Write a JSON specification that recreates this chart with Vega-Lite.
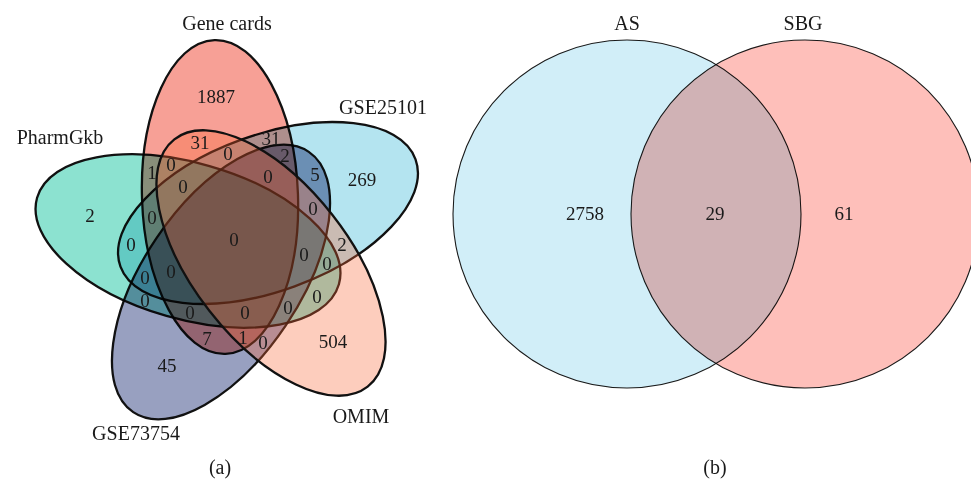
{
  "$schema": "https://vega.github.io/schema/vega-lite/v6.json",
  "width": 971,
  "height": 480,
  "autosize": {"type": "none"},
  "padding": 0,
  "background": "white",
  "config": {"view": {"stroke": null}},
  "datasets": {
    "sets5": [
      {"set": "Gene cards", "x": 220, "y": 197, "rot": -2},
      {"set": "GSE25101", "x": 268, "y": 213, "rot": 70},
      {"set": "OMIM", "x": 271, "y": 263, "rot": 142},
      {"set": "GSE73754", "x": 221, "y": 282, "rot": 214},
      {"set": "PharmGkb", "x": 188, "y": 241, "rot": 286}
    ],
    "sets2": [
      {"set": "AS", "x": 627, "y": 214},
      {"set": "SBG", "x": 805, "y": 214}
    ],
    "names": [
      {"name": "Gene cards", "x": 227, "y": 24},
      {"name": "GSE25101", "x": 383, "y": 108},
      {"name": "PharmGkb", "x": 60, "y": 138},
      {"name": "GSE73754", "x": 136, "y": 434},
      {"name": "OMIM", "x": 361, "y": 417},
      {"name": "AS", "x": 627, "y": 24},
      {"name": "SBG", "x": 803, "y": 24},
      {"name": "(a)", "x": 220, "y": 468},
      {"name": "(b)", "x": 715, "y": 468}
    ],
    "counts": [
      {"n": 1887, "x": 216, "y": 97},
      {"n": 31, "x": 200, "y": 143},
      {"n": 31, "x": 271, "y": 139},
      {"n": 2, "x": 285, "y": 156},
      {"n": 0, "x": 228, "y": 154},
      {"n": 1, "x": 152, "y": 173},
      {"n": 0, "x": 171, "y": 165},
      {"n": 0, "x": 183, "y": 187},
      {"n": 0, "x": 268, "y": 177},
      {"n": 5, "x": 315, "y": 175},
      {"n": 269, "x": 362, "y": 180},
      {"n": 2, "x": 90, "y": 216},
      {"n": 0, "x": 152, "y": 218},
      {"n": 0, "x": 313, "y": 209},
      {"n": 0, "x": 131, "y": 245},
      {"n": 0, "x": 234, "y": 240},
      {"n": 2, "x": 342, "y": 245},
      {"n": 0, "x": 304, "y": 255},
      {"n": 0, "x": 327, "y": 264},
      {"n": 0, "x": 171, "y": 272},
      {"n": 0, "x": 145, "y": 278},
      {"n": 0, "x": 145, "y": 301},
      {"n": 0, "x": 317, "y": 297},
      {"n": 0, "x": 190, "y": 313},
      {"n": 0, "x": 245, "y": 313},
      {"n": 0, "x": 288, "y": 308},
      {"n": 504, "x": 333, "y": 342},
      {"n": 7, "x": 207, "y": 339},
      {"n": 1, "x": 243, "y": 338},
      {"n": 0, "x": 263, "y": 343},
      {"n": 45, "x": 167, "y": 366},
      {"n": 2758, "x": 585, "y": 214},
      {"n": 29, "x": 715, "y": 214},
      {"n": 61, "x": 844, "y": 214}
    ]
  },
  "layer": [
    {
      "data": {"name": "sets5"},
      "transform": [{"filter": "datum.set !== 'OMIM'"}],
      "mark": {
        "type": "point",
        "shape": "M 0 -157 C 43.08 -157 78 -86.71 78 0 C 78 86.71 43.08 157 0 157 C -43.08 157 -78 86.71 -78 0 C -78 -86.71 -43.08 -157 0 -157 Z",
        "size": 4,
        "filled": true,
        "opacity": 1,
        "stroke": "#111111",
        "strokeWidth": 2.3,
        "blend": "multiply"
      },
      "encoding": {
        "x": {"field": "x", "type": "quantitative", "scale": {"domain": [0, 971], "nice": false, "zero": false}, "axis": null},
        "y": {"field": "y", "type": "quantitative", "scale": {"domain": [0, 480], "nice": false, "zero": false, "reverse": true}, "axis": null},
        "angle": {"field": "rot", "type": "quantitative", "scale": null},
        "fill": {
          "field": "set",
          "type": "nominal",
          "scale": {"domain": ["Gene cards", "GSE25101", "GSE73754", "PharmGkb", "AS", "SBG"], "range": ["#f7a096", "#b4e4f0", "#98a0c0", "#8ce2d0", "#d1eef8", "#febfba"]},
          "legend": null
        }
      }
    },
    {
      "data": {"name": "sets5"},
      "transform": [{"filter": "datum.set === 'OMIM'"}],
      "mark": {
        "type": "point",
        "shape": "M 0 -157 C 43.08 -157 78 -86.71 78 0 C 78 86.71 43.08 157 0 157 C -43.08 157 -78 86.71 -78 0 C -78 -86.71 -43.08 -157 0 -157 Z",
        "size": 4,
        "filled": true,
        "opacity": 1,
        "fill": "#f96638",
        "fillOpacity": 0.33,
        "stroke": "#111111",
        "strokeWidth": 2.3
      },
      "encoding": {
        "x": {"field": "x", "type": "quantitative"},
        "y": {"field": "y", "type": "quantitative"},
        "angle": {"field": "rot", "type": "quantitative", "scale": null}
      }
    },
    {
      "data": {"name": "sets2"},
      "mark": {
        "type": "point",
        "shape": "M 0 -174 C 96.1 -174 174 -96.1 174 0 C 174 96.1 96.1 174 0 174 C -96.1 174 -174 96.1 -174 0 C -174 -96.1 -96.1 -174 0 -174 Z",
        "size": 4,
        "filled": true,
        "opacity": 1,
        "stroke": "#1a1a1a",
        "strokeWidth": 1.1,
        "blend": "multiply"
      },
      "encoding": {
        "x": {"field": "x", "type": "quantitative"},
        "y": {"field": "y", "type": "quantitative"},
        "fill": {"field": "set", "type": "nominal", "legend": null}
      }
    },
    {
      "data": {"name": "names"},
      "mark": {"type": "text", "font": "Liberation Serif", "fontSize": 20, "color": "#1a1a1a", "baseline": "middle", "align": "center"},
      "encoding": {
        "x": {"field": "x", "type": "quantitative"},
        "y": {"field": "y", "type": "quantitative"},
        "text": {"field": "name", "type": "nominal"}
      }
    },
    {
      "data": {"name": "counts"},
      "mark": {"type": "text", "font": "Liberation Serif", "fontSize": 19, "color": "#1a1a1a", "baseline": "middle", "align": "center"},
      "encoding": {
        "x": {"field": "x", "type": "quantitative"},
        "y": {"field": "y", "type": "quantitative"},
        "text": {"field": "n", "type": "quantitative", "format": "d"}
      }
    }
  ]
}
